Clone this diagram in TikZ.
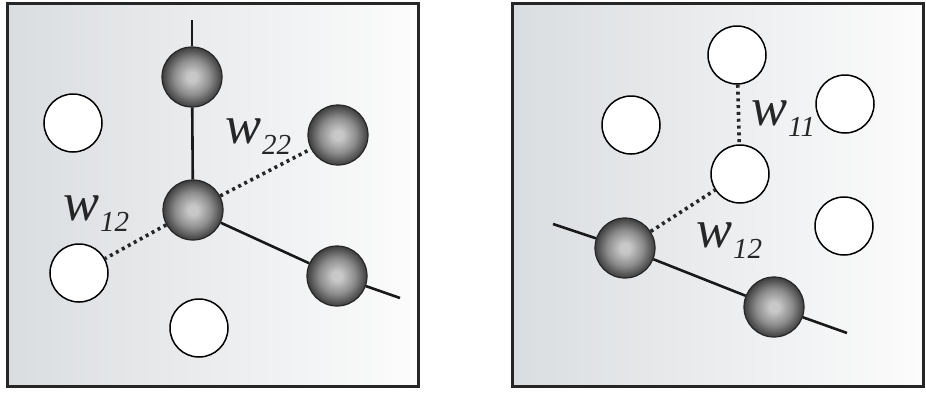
\documentclass[tikz,border=0pt]{standalone}
\usepackage{fontspec}
\setmainfont{Liberation Serif}
\usepackage{tikz}
\definecolor{PanelLeft}{RGB}{218,221,224}
\definecolor{PanelRight}{RGB}{252,252,252}
\definecolor{BallInner}{RGB}{200,200,200}
\definecolor{BallMid}{RGB}{140,140,140}
\definecolor{BallOuter}{RGB}{62,62,62}
\pgfdeclareradialshading{sphere}{\pgfpoint{0bp}{0bp}}{color(0bp)=(BallInner); color(4bp)=(BallInner); color(15bp)=(BallMid); color(25bp)=(BallOuter); color(50bp)=(BallOuter)}
\newcommand{\wsub}[1]{{\itshape\fontsize{54}{54}\selectfont w}\kern1pt\raisebox{-11pt}{\itshape\fontsize{29}{29}\selectfont #1}}

\begin{document}
\begin{tikzpicture}[x=1pt, y=-1pt,
    panel/.style={line width=3pt, draw=black!85, left color=PanelLeft, right color=PanelRight},
    ball/.style={circle, draw=black!85, line width=1.2pt, minimum size=60pt, inner sep=0pt, shading=sphere},
    hole/.style={circle, draw=black, line width=1.5pt, fill=white, minimum size=58pt, inner sep=0pt},
    bond/.style={line width=2.6pt, black!90},
    weak/.style={line width=3.6pt, black!85, dash pattern=on 3pt off 3.8pt},
    wlab/.style={anchor=base west, inner sep=0pt, text=black!85}]
    \useasboundingbox (0,0) rectangle (926,394);

    \draw[panel] (7,3) rectangle (418,386);
    \draw[panel] (512,3) rectangle (923,386);

    \node[ball] (gtop) at (192,77) {};
    \node[ball] (gmid) at (193,210) {};
    \node[ball] (gup) at (338,135) {};
    \node[ball] (glow) at (337,276) {};
    \node[hole] (hleft) at (73,123) {};
    \node[hole] (hlow) at (79,273) {};
    \node[hole] (hbot) at (199,328) {};
    \coordinate (ltop) at (192,20);
    \coordinate (lend) at (400,298);

    \draw[bond] (ltop) -- (gtop);
    \draw[bond] (gtop) -- (gmid);
    \draw[bond] (gmid) -- (glow);
    \draw[bond] (glow) -- (lend);
    \draw[weak] (gmid) -- (gup);
    \draw[weak] (gmid) -- (hlow);

    \node[wlab] (w22) at (225,143) {\wsub{22}};
    \node[wlab] (w12) at (63,220) {\wsub{12}};

    \node[hole] (rtop) at (737,55) {};
    \node[hole] (rright) at (845,104) {};
    \node[hole] (rleft) at (631,125) {};
    \node[hole] (rmid) at (740,174) {};
    \node[hole] (rlow) at (844,226) {};
    \node[ball] (rg1) at (625,248) {};
    \node[ball] (rg2) at (774,307) {};
    \coordinate (rstart) at (553,224);
    \coordinate (rend) at (847,333);

    \draw[bond] (rstart) -- (rg1);
    \draw[bond] (rg1) -- (rg2);
    \draw[bond] (rg2) -- (rend);
    \draw[weak] (rtop) -- (rmid);
    \draw[weak] (rg1) -- (rmid);

    \node[wlab] (w11) at (751,125) {\wsub{11}};
    \node[wlab] (w12r) at (696,247) {\wsub{12}};
\end{tikzpicture}
\end{document}
